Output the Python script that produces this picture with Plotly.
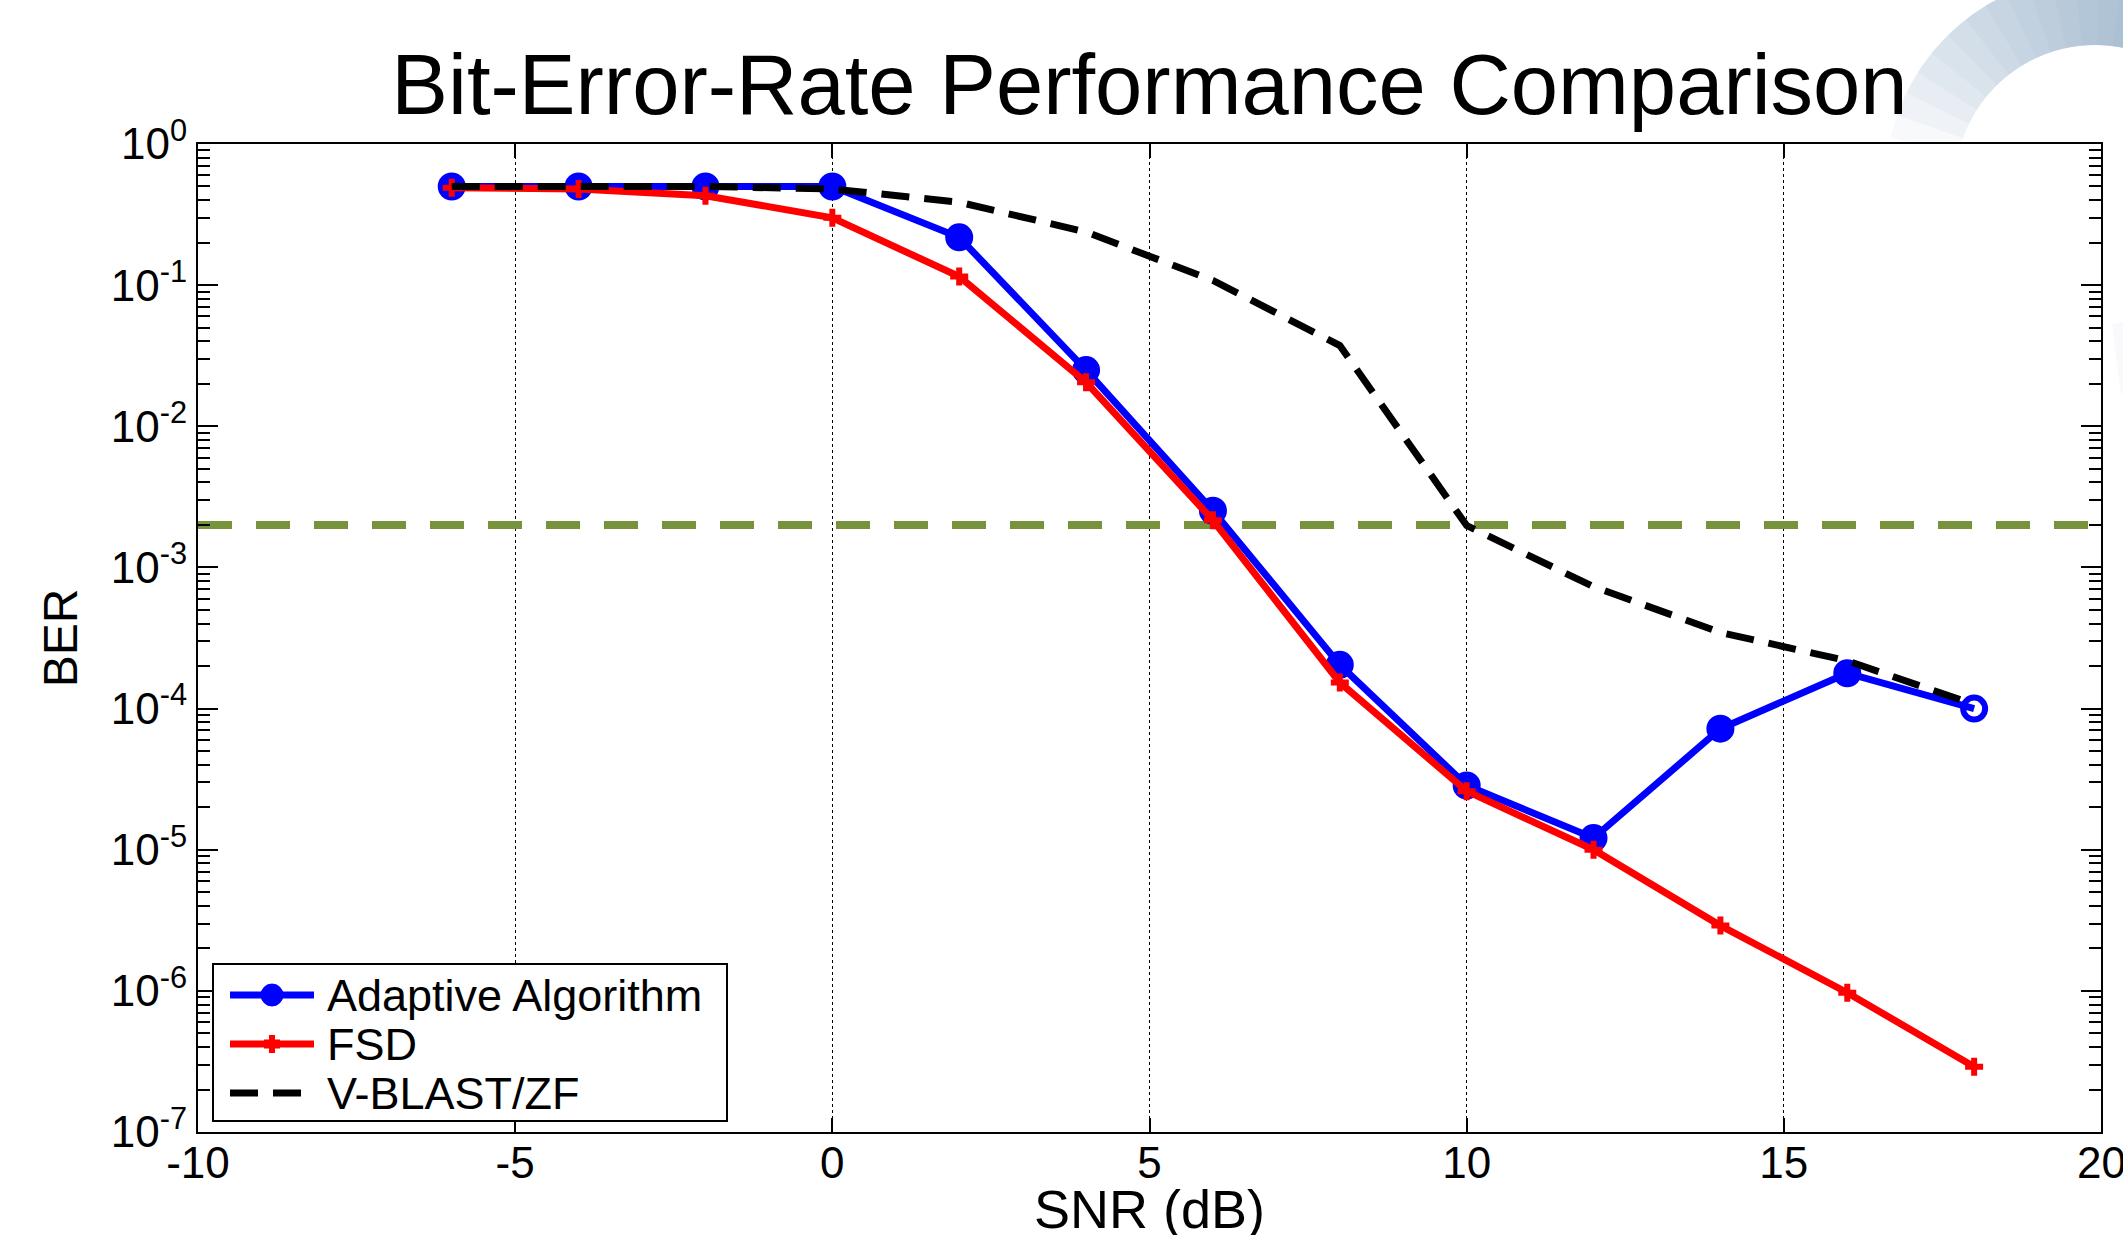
import math
import plotly.graph_objects as go

snr = [-6, -4, -2, 0, 2, 4, 6, 8, 10, 12, 14, 16, 18]
ber_adaptive = [0.50, 0.50, 0.50, 0.50, 0.218, 0.025, 0.00252, 2.04e-4, 2.85e-5, 1.21e-5, 7.2e-5, 1.78e-4, 1.0e-4]
ber_fsd = [0.49, 0.48, 0.43, 0.30, 0.115, 0.0205, 0.00216, 1.53e-4, 2.6e-5, 1.0e-5, 2.9e-6, 9.7e-7, 2.9e-7]
ber_vblast = [0.50, 0.50, 0.50, 0.48, 0.387, 0.238, 0.108, 0.0373, 0.00198, 7.3e-4, 3.46e-4, 2.18e-4, 1.07e-4]
target_x = [-10, 20]
target_ber = [2e-3, 2e-3]

series_names = ["Adaptive Algorithm", "FSD", "V-BLAST/ZF"]
x_ticks = [-10, -5, 0, 5, 10, 15, 20]
x_ticktext = ["-10", "-5", "0", "5", "10", "15", "20"]
y_exps = [0, -1, -2, -3, -4, -5, -6, -7]
y_ticks = [10.0 ** e for e in y_exps]
y_ticktext = ["10<sup>%d</sup>" % e for e in y_exps]

FONT = "Liberation Sans, Arial, sans-serif"
W, H = 2123, 1235
L, R, T, B = 198, 22, 144, 103

BLUE, RED, BLACK, GREEN = "#0000FF", "#FF0000", "#000000", "#77933C"
BLACK_DASH = "28px,15px"

fig = go.Figure()

fig.add_trace(go.Scatter(
    x=target_x, y=target_ber, mode="lines", showlegend=False,
    line=dict(color=GREEN, width=8, dash="34px,24px"), hoverinfo="skip"))

adaptive_symbols = ["circle"] * (len(snr) - 1) + ["circle-open"]
fig.add_trace(go.Scatter(
    x=snr, y=ber_adaptive, mode="lines+markers", name=series_names[0], showlegend=False,
    line=dict(color=BLUE, width=7),
    marker=dict(symbol=adaptive_symbols, size=22, color=BLUE, line=dict(color=BLUE, width=6))))

fig.add_trace(go.Scatter(
    x=snr, y=ber_fsd, mode="lines+markers", name=series_names[1], showlegend=False,
    line=dict(color=RED, width=7),
    marker=dict(symbol="cross", size=15, color=RED)))

fig.add_trace(go.Scatter(
    x=snr, y=ber_vblast, mode="lines", name=series_names[2], showlegend=False,
    line=dict(color=BLACK, width=7, dash=BLACK_DASH)))


def px_to_paper(X, Y):
    return (X - L) / (W - L - R), (H - B - Y) / (H - T - B)


def clip(poly, inside, intersect):
    out = []
    n = len(poly)
    for i in range(n):
        cur, prev = poly[i], poly[i - 1]
        if inside(cur):
            if not inside(prev):
                out.append(intersect(prev, cur))
            out.append(cur)
        elif inside(prev):
            out.append(intersect(prev, cur))
    return out


def cut_y(a, b, y0):
    t = (y0 - a[1]) / (b[1] - a[1])
    return (a[0] + t * (b[0] - a[0]), y0)


def cut_x(a, b, x0):
    t = (x0 - a[0]) / (b[0] - a[0])
    return (x0, a[1] + t * (b[1] - a[1]))


PLOT_TOP = T
PLOT_RIGHT = W - R


def outside_plot_pieces(poly):
    pieces = []
    a = clip(poly, lambda p: p[1] <= PLOT_TOP, lambda p, q: cut_y(p, q, PLOT_TOP))
    if len(a) > 2:
        pieces.append(a)
    b = clip(poly, lambda p: p[1] >= PLOT_TOP, lambda p, q: cut_y(p, q, PLOT_TOP))
    b = clip(b, lambda p: p[0] >= PLOT_RIGHT, lambda p, q: cut_x(p, q, PLOT_RIGHT)) if len(b) > 2 else []
    if len(b) > 2:
        pieces.append(b)
    return pieces


def poly_path(poly):
    pts = [px_to_paper(*p) for p in poly]
    return "M " + " L ".join("%.5f,%.5f" % p for p in pts) + " Z"


shapes = []

# faint decorative swoosh in the top-right corner of the page (nested layers -> soft gradient)
cx, cy, r_in, r_out = 2095, 185, 140, 210
centre_ang = 318.0
nlayers = 16
for k in range(nlayers):
    half = 125.0 - k * 6.5
    s0, s1 = centre_ang - half, centre_ang + half
    pts = []
    nstep = 48
    for j in range(nstep + 1):
        ang = math.radians(s0 + (s1 - s0) * j / nstep)
        pts.append((cx + r_out * math.cos(ang), cy + r_out * math.sin(ang)))
    for j in range(nstep + 1):
        ang = math.radians(s1 - (s1 - s0) * j / nstep)
        pts.append((cx + r_in * math.cos(ang), cy + r_in * math.sin(ang)))
    for piece in outside_plot_pieces(pts):
        shapes.append(dict(type="path", xref="paper", yref="paper", path=poly_path(piece),
                           fillcolor="rgba(105,138,190,0.055)", line=dict(width=0), layer="below"))

# legend drawn by hand (box, samples, labels)
LEG_X0, LEG_X1, LEG_Y0, LEG_Y1 = 213, 727, 964, 1121
ROW_Y = [995, 1044, 1093]
SAMPLE_X0, SAMPLE_X1, TEXT_X = 230, 314, 325
lx0, ly0 = px_to_paper(LEG_X0, LEG_Y1)
lx1, ly1 = px_to_paper(LEG_X1, LEG_Y0)
shapes.append(dict(type="rect", xref="paper", yref="paper", x0=lx0, y0=ly0, x1=lx1, y1=ly1,
                   fillcolor="white", line=dict(color="black", width=2), layer="above"))
sample_styles = [(BLUE, "solid"), (RED, "solid"), (BLACK, BLACK_DASH)]
for (col, dash), yy in zip(sample_styles, ROW_Y):
    a = px_to_paper(SAMPLE_X0, yy)
    b = px_to_paper(SAMPLE_X1, yy)
    shapes.append(dict(type="line", xref="paper", yref="paper", x0=a[0], y0=a[1], x1=b[0], y1=b[1],
                       line=dict(color=col, width=7, dash=dash), layer="above"))
mid_x = (SAMPLE_X0 + SAMPLE_X1) / 2
c0 = px_to_paper(mid_x - 11, ROW_Y[0] + 11)
c1 = px_to_paper(mid_x + 11, ROW_Y[0] - 11)
shapes.append(dict(type="circle", xref="paper", yref="paper", x0=c0[0], y0=c0[1], x1=c1[0], y1=c1[1],
                   fillcolor=BLUE, line=dict(color=BLUE, width=1), layer="above"))
v0 = px_to_paper(mid_x, ROW_Y[1] - 9)
v1 = px_to_paper(mid_x, ROW_Y[1] + 9)
shapes.append(dict(type="line", xref="paper", yref="paper", x0=v0[0], y0=v0[1], x1=v1[0], y1=v1[1],
                   line=dict(color=RED, width=6), layer="above"))
h0 = px_to_paper(mid_x - 8, ROW_Y[1])
h1 = px_to_paper(mid_x + 8, ROW_Y[1])
shapes.append(dict(type="line", xref="paper", yref="paper", x0=h0[0], y0=h0[1], x1=h1[0], y1=h1[1],
                   line=dict(color=RED, width=9), layer="above"))

annotations = []
for name, yy in zip(series_names, ROW_Y):
    p = px_to_paper(TEXT_X, yy)
    annotations.append(dict(text=name, xref="paper", yref="paper", x=p[0], y=p[1],
                            xanchor="left", yanchor="middle", showarrow=False,
                            font=dict(size=45, family=FONT, color="black")))

# right-most x tick label (plotly drops it because it overflows the page edge)
annotations.append(dict(text=x_ticktext[-1], xref="x", yref="paper", x=x_ticks[-1], y=0,
                        yshift=-30, xanchor="center", yanchor="middle", showarrow=False,
                        font=dict(size=44, family=FONT, color="black")))

# x-axis title placed explicitly
annotations.append(dict(text="SNR (dB)", xref="paper", yref="paper", x=0.5, y=0,
                        yshift=-(1209 - (H - B)), xanchor="center", yanchor="middle", showarrow=False,
                        font=dict(size=54, family=FONT, color="black")))

fig.update_layout(
    width=W, height=H,
    margin=dict(l=L, r=R, t=T, b=B, pad=0),
    paper_bgcolor="white", plot_bgcolor="white",
    font=dict(family=FONT, color="black", size=43),
    title=dict(text="Bit-Error-Rate Performance Comparison", x=(L + (W - R)) / 2 / W,
               xanchor="center", y=1 - 84 / H, yanchor="middle",
               font=dict(size=85, family=FONT, color="black")),
    shapes=shapes,
    annotations=annotations,
    showlegend=False,
)

fig.update_xaxes(
    range=[-10, 20], tickmode="array", tickvals=x_ticks, ticktext=x_ticktext,
    ticks="inside", ticklen=14, tickwidth=2, tickcolor="black",
    showline=True, linecolor="black", linewidth=2, mirror="ticks",
    showgrid=True, gridcolor="black", gridwidth=1, griddash="dot",
    zeroline=False, automargin=False, tickfont=dict(size=44, family=FONT),
    ticklabelstandoff=-9,
)

fig.update_yaxes(
    type="log", range=[-7, 0], tickmode="array", tickvals=y_ticks, ticktext=y_ticktext,
    ticks="inside", ticklen=20, tickwidth=2, tickcolor="black",
    minor=dict(ticks="inside", ticklen=12, tickwidth=2, tickcolor="black", showgrid=False, dtick="D1"),
    showline=True, linecolor="black", linewidth=2, mirror="ticks",
    showgrid=False, zeroline=False, automargin=False, tickfont=dict(size=44, family=FONT),
    title=dict(text="BER", font=dict(size=48, family=FONT), standoff=18),
)

fig.write_html(
    "out.html",
    config={"responsive": False, "displayModeBar": False},
    post_script="document.body.style.margin='0px';document.body.style.overflow='hidden';",
)
